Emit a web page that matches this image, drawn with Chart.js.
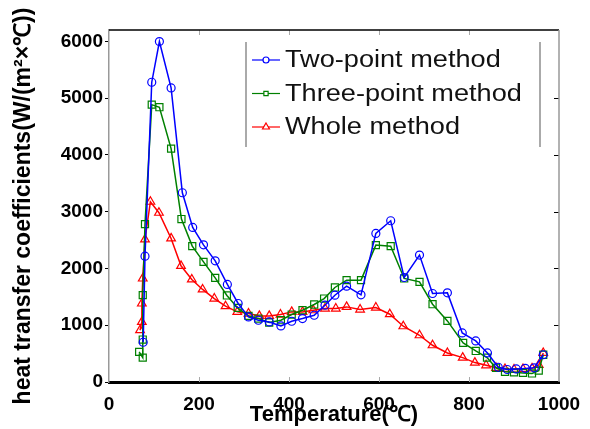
<!DOCTYPE html>
<html>
<head>
<meta charset="utf-8">
<script src="https://cdn.jsdelivr.net/npm/chart.js@4.4.0/dist/chart.umd.min.js"></script>
<style>
  html, body { margin: 0; padding: 0; background: #fff; }
</style>
</head>
<body>
<canvas id="chart" width="590" height="429"></canvas>
<script>
// Données (température en °C, coefficient en W/(m²·°C))
const twoPointT = [76, 80, 95, 112, 138, 163, 186, 210, 236, 263, 287, 310, 332, 356, 382, 406, 430, 456, 480, 502, 528, 560, 593, 626, 656, 690, 719, 752, 785, 815, 841, 865, 885, 905, 925, 945, 965];
const twoPointH = [700, 2217, 5280, 5996, 5180, 3333, 2723, 2416, 2134, 1718, 1383, 1146, 1088, 1058, 988, 1070, 1118, 1176, 1353, 1529, 1688, 1535, 2617, 2840, 1841, 2235, 1559, 1570, 864, 723, 512, 260, 220, 230, 240, 250, 480];

const threePointT = [67, 75, 75, 75, 80, 95, 112, 138, 161, 185, 210, 236, 262, 286, 310, 332, 356, 382, 406, 430, 456, 478, 502, 528, 560, 593, 626, 656, 690, 719, 752, 787, 815, 840, 860, 880, 900, 920, 940, 955, 965];
const threePointH = [530, 430, 748, 1530, 2781, 4885, 4840, 4110, 2870, 2393, 2116, 1834, 1524, 1305, 1164, 1118, 1047, 1088, 1188, 1264, 1365, 1470, 1665, 1794, 1794, 2411, 2393, 1824, 1764, 1370, 1076, 688, 547, 430, 250, 180, 170, 160, 150, 200, 480];

const wholeT = [69, 73, 73, 75, 80, 92, 111, 138, 160, 184, 208, 234, 259, 285, 310, 334, 356, 381, 406, 430, 454, 480, 504, 528, 558, 593, 624, 654, 690, 719, 752, 786, 813, 838, 860, 880, 900, 920, 940, 955, 965];
const wholeH = [912, 1058, 1383, 1823, 2511, 3175, 2981, 2529, 2046, 1806, 1630, 1470, 1335, 1235, 1206, 1164, 1164, 1188, 1235, 1235, 1264, 1294, 1294, 1323, 1276, 1311, 1194, 982, 823, 647, 512, 430, 342, 294, 250, 230, 220, 230, 240, 300, 512];

const seriesLabels = ['Two-point method', 'Three-point method', 'Whole method'];
const xTicks = [0, 200, 400, 600, 800, 1000];
const yTicks = [0, 1000, 2000, 3000, 4000, 5000, 6000];

const FONT = "'Liberation Sans', Arial, sans-serif";

const toPoints = (xs, ys) => xs.map((x, i) => ({ x, y: ys[i] }));

function dataset(label, color, style, radius, xs, ys) {
  return {
    label,
    data: toPoints(xs, ys),
    borderColor: color,
    backgroundColor: color,
    borderWidth: 1.5,
    pointStyle: style,
    pointRadius: radius,
    pointBorderWidth: 1.2,
    pointBorderColor: color,
    pointBackgroundColor: 'rgba(0,0,0,0)',
    tension: 0,
  };
}

// Cadre + petites graduations intérieures
const framePlugin = {
  id: 'frame',
  afterDatasetsDraw(chart) {
    const { ctx, chartArea: a, scales } = chart;
    ctx.save();
    ctx.lineWidth = 1;
    ctx.strokeStyle = '#aaa';
    xTicks.slice(1, -1).forEach(v => {
      const px = Math.round(scales.x.getPixelForValue(v)) + .5;
      ctx.beginPath();
      ctx.moveTo(px, a.top); ctx.lineTo(px, a.top + 5);
      ctx.moveTo(px, a.bottom); ctx.lineTo(px, a.bottom - 5);
      ctx.stroke();
    });
    ctx.strokeStyle = '#000';
    yTicks.slice(1, -1).forEach(v => {
      const py = Math.round(scales.y.getPixelForValue(v)) + .5;
      ctx.beginPath();
      ctx.moveTo(a.right, py); ctx.lineTo(a.right - 5, py);
      ctx.stroke();
    });
    // haut noir, droite grise
    ctx.lineWidth = 1.5;
    ctx.strokeStyle = '#000';
    ctx.beginPath();
    ctx.moveTo(a.left, a.top); ctx.lineTo(a.right, a.top);
    ctx.stroke();
    ctx.strokeStyle = '#999';
    ctx.beginPath();
    ctx.moveTo(a.right, a.top); ctx.lineTo(a.right, a.bottom);
    ctx.stroke();
    ctx.restore();
  }
};

// Légende dessinée dans la zone du graphe
const legendPlugin = {
  id: 'innerLegend',
  afterDraw(chart) {
    const { ctx, chartArea: a } = chart;
    const x0 = a.left + 137, y0 = a.top + 12, rowH = 33.5;
    const boxW = 294, boxH = 105;
    ctx.save();
    ctx.strokeStyle = '#aaa';
    ctx.lineWidth = 2;
    ctx.beginPath();
    ctx.moveTo(x0, y0); ctx.lineTo(x0, y0 + boxH);
    ctx.moveTo(x0 + boxW, y0); ctx.lineTo(x0 + boxW, y0 + boxH);
    ctx.stroke();

    chart.data.datasets.forEach((ds, i) => {
      const cy = y0 + 18 + i * rowH;
      ctx.strokeStyle = ds.borderColor;
      ctx.lineWidth = 1.2;
      ctx.beginPath();
      ctx.moveTo(x0 + 6, cy); ctx.lineTo(x0 + 34, cy);
      ctx.stroke();
      ctx.fillStyle = '#fff';
      Chart.helpers.drawPoint(ctx, {
        pointStyle: ds.pointStyle, radius: ds.pointStyle === 'triangle' ? 4 : 3,
        borderWidth: 1.2, rotation: 0
      }, x0 + 20, cy);
      ctx.save();
      ctx.translate(x0 + 39, cy);
      ctx.scale(1.18, 1);
      ctx.fillStyle = '#111';
      ctx.font = '23px ' + FONT;
      ctx.textBaseline = 'middle';
      ctx.fillText(ds.label, 0, 1);
      ctx.restore();
    });
    ctx.restore();
  }
};

new Chart(document.getElementById('chart'), {
  type: 'line',
  data: {
    datasets: [
      dataset(seriesLabels[0], '#0000FF', 'circle', 4, twoPointT, twoPointH),
      dataset(seriesLabels[1], '#008000', 'rect', 5, threePointT, threePointH),
      dataset(seriesLabels[2], '#FF0000', 'triangle', 5, wholeT, wholeH),
    ],
  },
  options: {
    responsive: false,
    animation: false,
    layout: { padding: { left: 0, right: 31, top: 30, bottom: 0 } },
    plugins: { legend: { display: false }, tooltip: { enabled: false } },
    scales: {
      x: {
        type: 'linear',
        min: 0, max: 1000,
        afterBuildTicks: s => { s.ticks = xTicks.map(v => ({ value: v })); },
        afterFit: s => { s.height = 47; },
        grid: { display: false },
        border: { display: true, color: '#000', width: 3 },
        ticks: { color: '#000', padding: 3, callback: v => String(v), font: { family: FONT, size: 19, weight: 'bold' } },
        title: {
          display: true, text: 'Temperature(℃)', color: '#000',
          font: { family: FONT, size: 22, weight: 'bold' },
          padding: { top: 0, bottom: 1 },
        },
      },
      y: {
        type: 'linear',
        min: 0, max: 6200,
        afterBuildTicks: s => { s.ticks = yTicks.map(v => ({ value: v })); },
        afterFit: s => { s.width = 109; },
        grid: { display: true, drawOnChartArea: false, drawTicks: true, tickLength: 4, color: '#000' },
        border: { display: true, color: '#999', width: 1.5 },
        ticks: { color: '#000', padding: 2, callback: v => String(v), font: { family: FONT, size: 19, weight: 'bold' } },
        title: {
          display: true, text: 'heat transfer coefficients(W/(m²×℃))', color: '#000',
          font: { family: FONT, size: 23, weight: 'bold' },
          padding: { top: 10, bottom: 0 },
        },
      },
    },
  },
  plugins: [framePlugin, legendPlugin],
});
</script>
</body>
</html>
